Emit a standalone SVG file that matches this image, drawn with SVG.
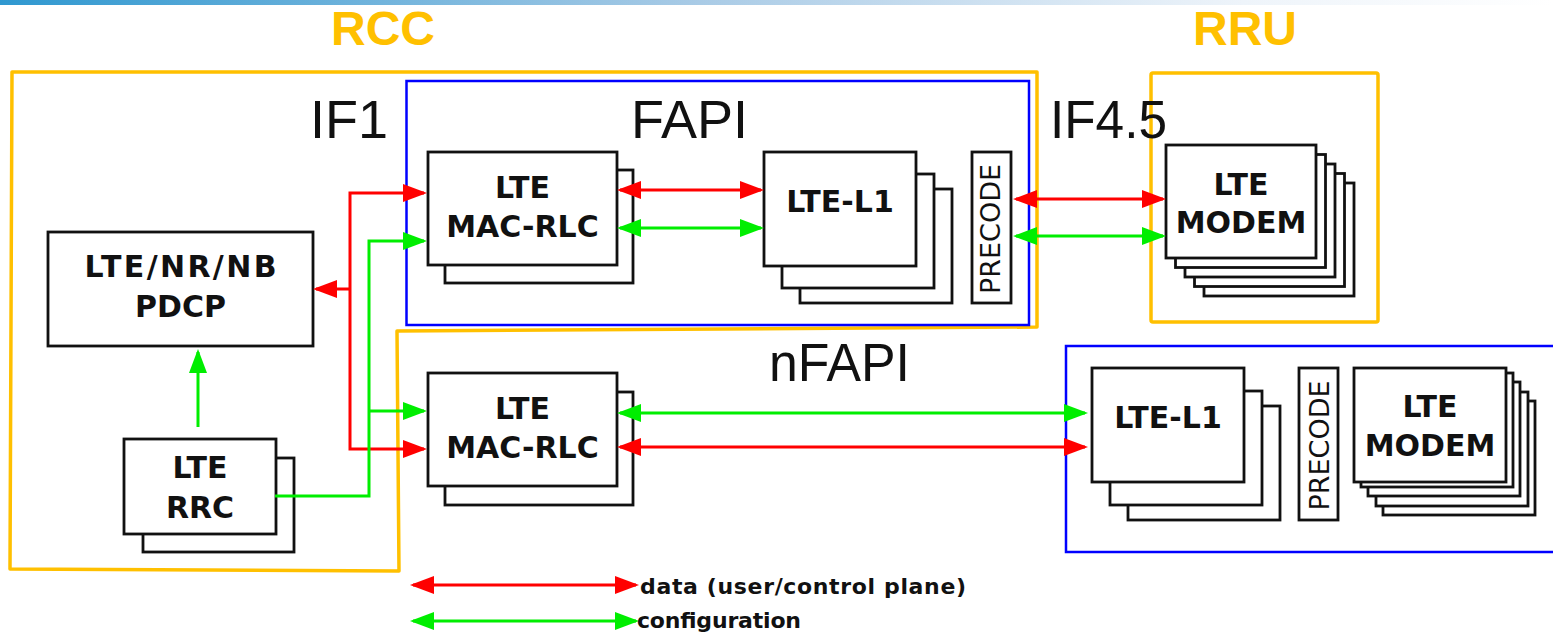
<svg xmlns="http://www.w3.org/2000/svg" width="1553" height="633" viewBox="0 0 1553 633">
<defs>
<linearGradient id="topbar" x1="0" y1="0" x2="1" y2="0">
<stop offset="0" stop-color="#2f98d0"/>
<stop offset="0.45" stop-color="#a9cbe6"/>
<stop offset="0.8" stop-color="#eef4fa"/>
<stop offset="1" stop-color="#ffffff"/>
</linearGradient>
<marker id="ar" viewBox="0 0 24 18" refX="21" refY="9" markerWidth="24" markerHeight="18" markerUnits="userSpaceOnUse" orient="auto-start-reverse"><path d="M0,0 L24,9 L0,18 z" fill="#ff0000"/></marker>
<marker id="ag" viewBox="0 0 24 18" refX="21" refY="9" markerWidth="24" markerHeight="18" markerUnits="userSpaceOnUse" orient="auto-start-reverse"><path d="M0,0 L24,9 L0,18 z" fill="#00ee00"/></marker>
</defs>
<style>
.box{fill:#fff;stroke:#111;stroke-width:2.8}
.lbl{font-family:'DejaVu Sans',sans-serif;font-weight:bold;font-size:30px;text-anchor:middle;fill:#111}
.pre{font-family:'DejaVu Sans',sans-serif;font-size:27px;text-anchor:middle;fill:#111}
.big{font-family:'Liberation Sans',Arial,sans-serif;font-size:54px;fill:#111}
.title{font-family:'Liberation Sans',Arial,sans-serif;font-weight:bold;font-size:48px;text-anchor:middle;fill:#ffc000}
.leg{font-family:'DejaVu Sans',sans-serif;font-weight:bold;font-size:22px;fill:#111}
.orange{fill:none;stroke:#ffc000;stroke-width:3.5;stroke-linejoin:round}
.blue{fill:none;stroke:#0000ff;stroke-width:2.5}
.r{fill:none;stroke:#ff0000;stroke-width:3}
.g{fill:none;stroke:#00ee00;stroke-width:3}
.r2{fill:none;stroke:#ff0000;stroke-width:3;marker-start:url(#ar);marker-end:url(#ar)}
.g2{fill:none;stroke:#00ee00;stroke-width:3;marker-start:url(#ag);marker-end:url(#ag)}
</style>
<rect x="0" y="0" width="1553" height="5" fill="url(#topbar)"/>

<g id="containers">
<polygon class="orange" points="12,72 1037,72 1037,327 397,331 399,571 10,569"/>
<rect class="blue" x="406.5" y="81" width="622.5" height="244"/>
<rect class="orange" x="1151" y="73" width="227" height="249" rx="2"/>
<rect class="blue" x="1066" y="346" width="500" height="206"/>
</g>

<g id="labels">
<text class="title" x="383" y="45">RCC</text>
<text class="title" x="1245" y="45">RRU</text>
<text class="big" x="310" y="138">IF1</text>
<text class="big" x="631" y="138">FAPI</text>
<text class="big" x="1050" y="138" textLength="117" lengthAdjust="spacingAndGlyphs">IF4.5</text>
<text class="big" x="769" y="381" textLength="141" lengthAdjust="spacingAndGlyphs">nFAPI</text>
</g>

<g id="pdcp">
<rect class="box" x="48" y="232" width="265" height="114"/>
<text class="lbl" x="180.5" y="277" textLength="192">LTE/NR/NB</text>
<text class="lbl" x="180.5" y="317">PDCP</text>
</g>

<g id="rrc">
<rect class="box" x="143" y="458" width="151" height="94"/>
<rect class="box" x="124" y="439" width="152" height="95"/>
<text class="lbl" x="200" y="478">LTE</text>
<text class="lbl" x="200" y="518">RRC</text>
</g>

<g id="mac-top">
<rect class="box" x="445" y="170" width="188" height="113"/>
<rect class="box" x="428" y="152" width="189" height="113"/>
<text class="lbl" x="522.5" y="198">LTE</text>
<text class="lbl" x="522.5" y="237">MAC-RLC</text>
</g>

<g id="mac-bottom">
<rect class="box" x="445" y="392" width="188" height="113"/>
<rect class="box" x="428" y="373" width="189" height="113"/>
<text class="lbl" x="522.5" y="419">LTE</text>
<text class="lbl" x="522.5" y="458">MAC-RLC</text>
</g>

<g id="l1-top">
<rect class="box" x="800" y="189" width="152" height="114"/>
<rect class="box" x="782" y="174" width="152" height="114"/>
<rect class="box" x="764" y="152" width="152" height="114"/>
<text class="lbl" x="840" y="212">LTE-L1</text>
</g>

<g id="precode-top">
<rect class="box" x="972" y="152" width="39" height="151"/>
<text class="pre" transform="translate(1000,229) rotate(-90)">PRECODE</text>
</g>

<g id="modem-top">
<rect class="box" x="1204" y="183" width="150" height="113"/>
<rect class="box" x="1194.5" y="173.5" width="150" height="113"/>
<rect class="box" x="1185" y="164" width="150" height="113"/>
<rect class="box" x="1175.5" y="154.5" width="150" height="113"/>
<rect class="box" x="1166" y="145" width="150" height="113"/>
<text class="lbl" x="1241" y="195">LTE</text>
<text class="lbl" x="1241" y="233">MODEM</text>
</g>

<g id="l1-bottom">
<rect class="box" x="1128" y="406" width="152" height="114"/>
<rect class="box" x="1110" y="391" width="152" height="114"/>
<rect class="box" x="1092" y="368" width="152" height="114"/>
<text class="lbl" x="1168" y="428">LTE-L1</text>
</g>

<g id="precode-bottom">
<rect class="box" x="1299" y="368" width="39" height="152"/>
<text class="pre" transform="translate(1329,445.5) rotate(-90)">PRECODE</text>
</g>

<g id="modem-bottom">
<rect class="box" x="1383" y="401" width="152" height="114"/>
<rect class="box" x="1376" y="392" width="152" height="114"/>
<rect class="box" x="1368" y="382" width="152" height="114"/>
<rect class="box" x="1361" y="373" width="152" height="114"/>
<rect class="box" x="1354" y="368" width="152" height="114"/>
<text class="lbl" x="1430" y="417">LTE</text>
<text class="lbl" x="1430" y="456">MODEM</text>
</g>

<g id="connectors">
<path class="r2" d="M424,193 H350 V449 H424"/>
<path class="r" d="M350,289 H316" marker-end="url(#ar)"/>
<path class="g" d="M275,496 H369 V241 H424" marker-end="url(#ag)"/>
<path class="g" d="M369,411 H424" marker-end="url(#ag)"/>
<path class="g" d="M198,427 V352" marker-end="url(#ag)"/>
<path class="r2" d="M620,190 H761"/>
<path class="g2" d="M620,228 H761"/>
<path class="r2" d="M1016,199 H1163"/>
<path class="g2" d="M1016,236 H1163"/>
<path class="g2" d="M620,413 H1085"/>
<path class="r2" d="M620,447 H1085"/>
</g>

<g id="legend">
<path class="r2" d="M413,585 H636"/>
<path class="g2" d="M413,621 H636"/>
<text class="leg" x="640" y="594" textLength="326">data (user/control plane)</text>
<text class="leg" x="637" y="628" textLength="164">configuration</text>
</g>
</svg>
